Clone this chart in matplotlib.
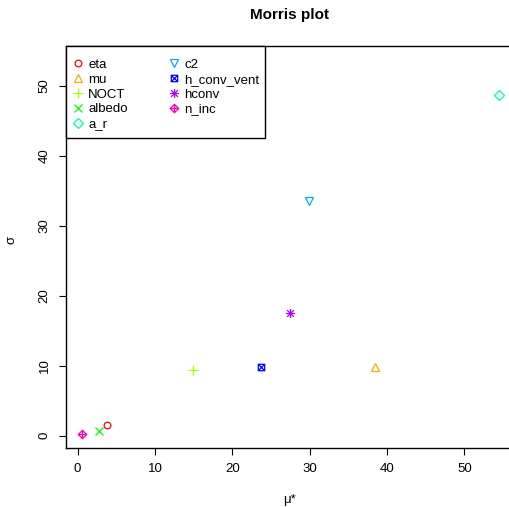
import numpy as np
import matplotlib.pyplot as plt
from matplotlib.path import Path
from matplotlib.patches import Rectangle

plt.rcParams['font.family'] = ['Liberation Sans', 'DejaVu Sans']

names = ['eta', 'mu', 'NOCT', 'albedo', 'a_r', 'c2', 'h_conv_vent', 'hconv', 'n_inc']
mu_star = [3.8, 38.5, 14.9, 2.8, 54.4, 29.9, 23.7, 27.4, 0.6]
sigma = [1.5, 9.8, 9.4, 0.7, 48.7, 33.5, 9.8, 17.5, 0.3]
colors = ['#FF0000', '#FFAA00', '#AAFF00', '#00FF00', '#00FFAA',
          '#00AAFF', '#0000FF', '#AA00FF', '#FF00AA']

# R-style pch 7, 8, 9 as stroked paths
M, L, C = Path.MOVETO, Path.LINETO, Path.CLOSEPOLY
sq_x = Path([(-1, -1), (1, -1), (1, 1), (-1, 1), (-1, -1),
             (-1, -1), (1, 1), (-1, 1), (1, -1)],
            [M, L, L, L, C, M, L, M, L])
aster = Path([(-1, 0), (1, 0), (0, -1), (0, 1),
              (-0.75, -0.75), (0.75, 0.75), (-0.75, 0.75), (0.75, -0.75)],
             [M, L, M, L, M, L, M, L])
dia_plus = Path([(0, 1), (1, 0), (0, -1), (-1, 0), (0, 1),
                 (-1, 0), (1, 0), (0, -1), (0, 1)],
                [M, L, L, L, C, M, L, M, L])
markers = ['o', '^', '+', 'x', 'D', 'v', sq_x, aster, dia_plus]
sizes = [4.8, 5.8, 7, 5.2, 4.8, 5.8, 4.6, 6.5, 6]

fig = plt.figure(figsize=(5.1, 5.07), dpi=100)
ax = fig.add_axes([66/510, 1-448/507, 448/510, 402/507])

for n, x, y, c, m, s in zip(names, mu_star, sigma, colors, markers, sizes):
    ax.plot([x], [y], linestyle='none', marker=m, ms=s, mfc='none',
            mec=c, mew=0.9, label=n)

ax.set_xlim(-1.5, 56.4)
ax.set_ylim(-1.75, 55.7)
ax.set_xticks([0, 10, 20, 30, 40, 50])
ax.set_yticks([0, 10, 20, 30, 40, 50])
ax.tick_params(labelsize=9.5, length=5, width=0.8, pad=6)
for lab in ax.get_yticklabels():
    lab.set_rotation(90)
    lab.set_va('center')
for sp in ax.spines.values():
    sp.set_linewidth(1.0)

fig.text(290/510, 1-15/507, 'Morris plot', ha='center', va='center',
         fontsize=11, fontweight='bold')
fig.text(290/510, 1-500/507, 'μ*', ha='center', va='center', fontsize=9.5)
fig.text(12/510, 1-240/507, 'σ', ha='center', va='center', fontsize=9.5,
         rotation=90)

# legend box drawn separately, tight to the text like R's legend()
ax.add_patch(Rectangle((0, 1 - 92/402), 199/448, 92/402, transform=ax.transAxes,
                       facecolor='white', edgecolor='black', lw=1.0,
                       zorder=4, clip_on=False))
leg = ax.legend(loc='upper left', bbox_to_anchor=(-3/448, 1), ncol=2,
                borderaxespad=0, frameon=False,
                fontsize=9.5, handlelength=0.3, handletextpad=0.65,
                columnspacing=3.35, labelspacing=0.2, borderpad=0.95)
leg.set_zorder(5)

fig.savefig('out.png', dpi=100)
